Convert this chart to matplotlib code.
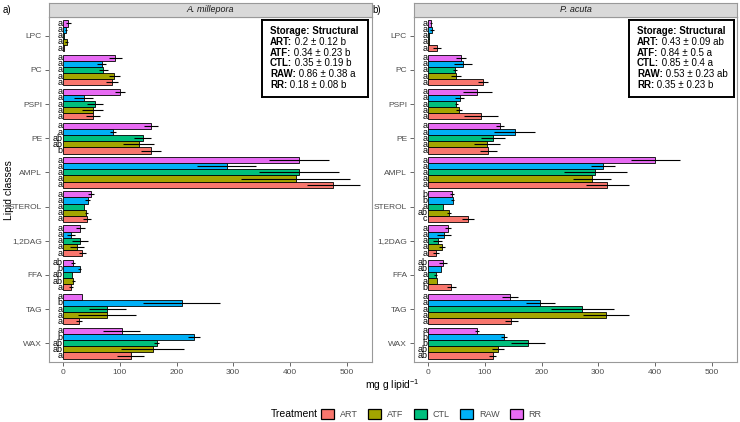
import matplotlib.pyplot as plt
import numpy as np
from matplotlib.patches import Patch


plt.rcParams["font.family"] = ["Liberation Sans", "DejaVu Sans"]
plt.rcParams["mathtext.default"] = "regular"


# =====================================================
# DATA
# =====================================================

lipids = ["LPC", "PC", "PSPI", "PE", "AMPL", "STEROL", "1,2DAG", "FFA", "TAG", "WAX"]
treatments = ["ART", "ATF", "CTL", "RAW", "RR"]
colors = ["#F8766D", "#A3A500", "#00BF7D", "#00B0F6", "#E76BF3"]

# A. millepora : mean per lipid class, one list per treatment
mil_mean = {
    "ART": [1, 86, 53, 155, 477, 42, 34, 14, 28, 119],
    "ATF": [6, 90, 52, 133, 410, 41, 24, 18, 78, 158],
    "CTL": [1, 71, 56, 140, 416, 36, 29, 16, 78, 165],
    "RAW": [5, 68, 36, 88, 289, 43, 14, 29, 209, 231],
    "RR": [9, 92, 100, 155, 416, 49, 30, 17, 34, 103],
}
mil_err = {
    "ART": [0, 11, 12, 18, 46, 7, 6, 3, 6, 24],
    "ATF": [2, 10, 18, 28, 96, 3, 12, 2, 51, 56],
    "CTL": [0, 8, 14, 15, 71, 0, 14, 0, 32, 4],
    "RAW": [2, 8, 17, 5, 52, 4, 7, 2, 68, 10],
    "RR": [4, 11, 9, 12, 53, 6, 8, 3, 0, 32],
}
mil_letters = {
    "ART": ["a", "a", "a", "b", "a", "a", "a", "a", "a", "a"],
    "ATF": ["a", "a", "a", "ab", "a", "a", "a", "ab", "a", "ab"],
    "CTL": ["a", "a", "a", "ab", "a", "a", "a", "ab", "a", "ab"],
    "RAW": ["a", "a", "a", "a", "a", "a", "a", "b", "b", "b"],
    "RR": ["a", "a", "a", "a", "a", "a", "a", "ab", "a", "a"],
}

# P. acuta
acu_mean = {
    "ART": [16, 97, 93, 106, 316, 70, 14, 41, 147, 114],
    "ATF": [1, 49, 54, 104, 289, 37, 24, 15, 314, 123],
    "CTL": [1, 47, 50, 114, 295, 26, 17, 13, 272, 177],
    "RAW": [7, 62, 56, 153, 309, 43, 28, 22, 198, 134],
    "RR": [5, 58, 87, 126, 401, 42, 35, 26, 144, 86],
}
acu_err = {
    "ART": [7, 9, 30, 15, 38, 10, 5, 8, 12, 6],
    "ATF": [0, 9, 5, 23, 34, 3, 5, 0, 40, 10],
    "CTL": [0, 4, 3, 21, 55, 0, 8, 3, 56, 30],
    "RAW": [4, 16, 8, 36, 21, 3, 12, 0, 26, 5],
    "RR": [2, 9, 26, 7, 43, 3, 6, 7, 14, 3],
}
acu_letters = {
    "ART": ["a", "a", "a", "a", "a", "c", "a", "b", "a", "ab"],
    "ATF": ["a", "a", "a", "a", "a", "ab", "a", "a", "a", "ab"],
    "CTL": ["a", "a", "a", "a", "a", "a", "a", "a", "a", "b"],
    "RAW": ["a", "a", "a", "a", "a", "b", "a", "ab", "a", "b"],
    "RR": ["a", "a", "a", "a", "a", "b", "a", "ab", "a", "a"],
}

mil_box = ["0.2 ± 0.12 b", "0.34 ± 0.23 b", "0.35 ± 0.19 b", "0.86 ± 0.38 a", "0.18 ± 0.08 b"]
acu_box = ["0.43 ± 0.09 ab", "0.84 ± 0.5 a", "0.85 ± 0.4 a", "0.53 ± 0.23 ab", "0.35 ± 0.23 b"]


# =====================================================
# LAYOUT (pixels -> figure fraction)
# =====================================================

W, H = 740, 422
fig = plt.figure(figsize=(W / 100, H / 100), dpi=100)


def px_axes(x0, y0, x1, y1):
    return fig.add_axes([x0 / W, 1 - y1 / H, (x1 - x0) / W, (y1 - y0) / H])


GRAY = "#4D4D4D"
BORDER = "#999999"


def draw_panel(x0, x1, title, means, errs, letters, box_vals, box_x0, box_x1):
    ax = px_axes(x0, 17, x1, 362)
    y = np.arange(len(lipids))
    h = 0.18
    # ggplot dodge order: ART at bottom, RR at top
    offsets = [0.36, 0.18, 0.0, -0.18, -0.36]

    for t, c, off in zip(treatments, colors, offsets):
        ax.barh(y + off, means[t], height=h, color=c,
                edgecolor="black", linewidth=0.6, zorder=2)
        ax.errorbar(means[t], y + off, xerr=errs[t], fmt="none",
                    ecolor="black", elinewidth=0.8, capsize=0, zorder=3)
        for yi, lab in zip(y, letters[t]):
            ax.text(-1, yi + off, lab, ha="right", va="center",
                    fontsize=6.5, color="black", zorder=4)

    ax.set_xlim(-25, 545)
    ax.set_ylim(9.55, -0.55)
    ax.set_yticks(y)
    ax.set_yticklabels(lipids)
    ax.set_xticks([0, 100, 200, 300, 400, 500])
    ax.tick_params(axis="both", labelsize=6, colors=GRAY, length=3,
                   width=0.6, pad=2)
    for s in ax.spines.values():
        s.set_color(BORDER)
        s.set_linewidth(0.8)

    # strip
    st = px_axes(x0, 3, x1, 17)
    st.set_facecolor("#D9D9D9")
    st.set_xticks([])
    st.set_yticks([])
    for s in st.spines.values():
        s.set_color(BORDER)
        s.set_linewidth(0.8)
    st.text(0.5, 0.5, title, style="italic", fontsize=6.5,
            color="#1A1A1A", ha="center", va="center", transform=st.transAxes)

    # info box
    bx = px_axes(box_x0, 20, box_x1, 97)
    bx.set_xticks([])
    bx.set_yticks([])
    for s in bx.spines.values():
        s.set_color("black")
        s.set_linewidth(1.4)
    tx = 8 / (box_x1 - box_x0)
    line_y = [31, 42, 52.5, 63.5, 74.5]
    bx.text(tx, 1 - (line_y[0] - 20) / 77, "Storage: Structural", fontsize=7,
            fontweight="bold", ha="left", va="center", transform=bx.transAxes)
    for i, (t, v) in enumerate(zip(treatments, box_vals)):
        yy = 1 - (line_y[0] + 10.8 * (i + 1) - 20) / 77
        lab = bx.text(tx, yy, t + ":", fontsize=7, fontweight="bold",
                      ha="left", va="center", transform=bx.transAxes)
        bx.annotate(" " + v, xy=(1, 0.5), xycoords=lab, fontsize=7,
                    ha="left", va="center")
    return ax


ax1 = draw_panel(49, 372, "A. millepora", mil_mean, mil_err, mil_letters,
                 mil_box, 262, 368)
ax2 = draw_panel(414, 737, "P. acuta", acu_mean, acu_err, acu_letters,
                 acu_box, 629, 734)

fig.text(3 / W, 1 - 10 / H, "a)", fontsize=7, ha="left", va="center")
fig.text(372 / W, 1 - 10 / H, "b)", fontsize=7, ha="left", va="center")

fig.text(9 / W, 1 - 190 / H, "Lipid classes", rotation=90, fontsize=7.5,
         ha="center", va="center")
fig.text(392 / W, 1 - 385 / H, "mg g lipid$^{-1}$", fontsize=7.5,
         ha="center", va="center")


# =====================================================
# LEGEND
# =====================================================

handles = [Patch(facecolor=c, edgecolor="black", linewidth=0.9, label=t)
           for t, c in zip(treatments, colors)]
fig.text(318 / W, 1 - 414 / H, "Treatment", fontsize=7.5, ha="right", va="center")
fig.legend(handles=handles, loc="center left",
           bbox_to_anchor=(321 / W, 1 - 414 / H), ncol=5, frameon=False,
           fontsize=6.5, handlelength=1.45, handleheight=1.45,
           handletextpad=0.6, columnspacing=1.2, borderpad=0,
           borderaxespad=0, labelcolor=GRAY)

fig.savefig("out.png", dpi=100)
